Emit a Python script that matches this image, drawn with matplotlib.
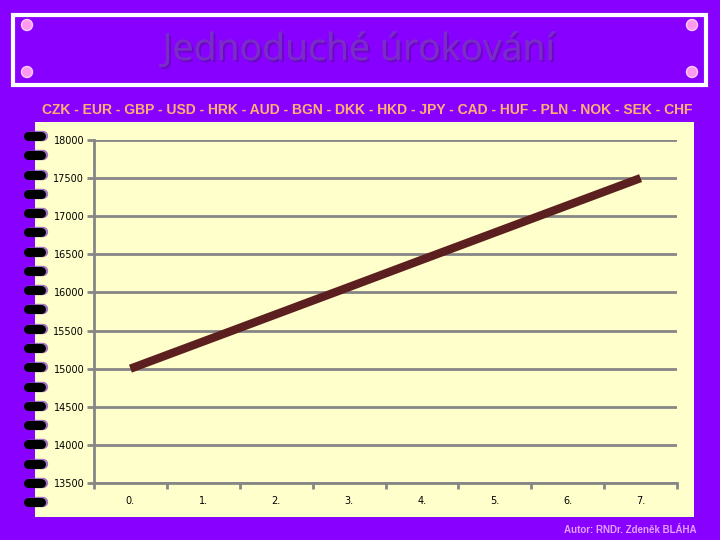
import matplotlib
matplotlib.use("Agg")
import matplotlib.pyplot as plt
from matplotlib.patches import Rectangle, Circle
import matplotlib.patheffects as pe

# data
roky = ["0.", "1.", "2.", "3.", "4.", "5.", "6.", "7."]
castka = [15000, 15357, 15714, 16071, 16429, 16786, 17143, 17500]
y_ticks = [13500, 14000, 14500, 15000, 15500, 16000, 16500, 17000, 17500, 18000]
meny = "CZK - EUR - GBP - USD - HRK - AUD - BGN - DKK - HKD - JPY - CAD - HUF - PLN - NOK - SEK - CHF"
nadpis = "Jednoduché úrokování"
autor = "Autor: RNDr. Zdeněk BLÁHA"

W, H = 720, 540
fig = plt.figure(figsize=(7.2, 5.4), dpi=100)
fig.patch.set_facecolor("#8800ff")

# background layer in pixel coordinates (y down)
bg = fig.add_axes([0, 0, 1, 1])
bg.set_xlim(0, W)
bg.set_ylim(H, 0)
bg.axis("off")

# title box
bg.add_patch(Rectangle((13, 15), 693, 70, fill=False, ec="white", lw=3))
for cx, cy in [(27, 25), (27, 72), (692, 25), (692, 72)]:
    bg.add_patch(Circle((cx, cy), 5.5, fc="#ff99ee", ec="#ffd0ff", lw=1))
bg.text(359, 50, nadpis, ha="center", va="center", fontsize=27,
        family="Open Sans", color="#7a2cc8",
        path_effects=[pe.withSimplePatchShadow(offset=(1.5, -1.5), shadow_rgbFace="#4a1080", alpha=0.45), pe.Normal()])

# currency line
bg.text(367, 110, meny, ha="center", va="center", fontsize=10,
        family="Liberation Sans", weight="bold", color="#ffb070")

# paper
bg.add_patch(Rectangle((35, 122), 659, 395, fc="#ffffcc", ec="none"))

# spiral rings
for i in range(20):
    y = 136 + i * 19.27
    bg.plot([30, 43], [y, y], color="#7a3cc0", lw=7.5, solid_capstyle="round", alpha=0.7)
    bg.plot([28, 41], [y, y], color="black", lw=6.5, solid_capstyle="round")

# author
bg.text(697, 530, autor, ha="right", va="center", fontsize=7,
        family="Liberation Sans", weight="bold", color="#e0a0ff")

# chart
ax = fig.add_axes([94 / W, (H - 483) / H, 583 / W, (483 - 140) / H])
ax.set_facecolor("none")
x = list(range(len(roky)))
ax.plot(x, castka, color="#5c1f1f", lw=6, solid_capstyle="butt")
ax.set_xlim(-0.5, len(roky) - 0.5)
ax.set_ylim(13500, 18000)
ax.set_yticks(y_ticks)
ax.set_yticklabels([str(v) for v in y_ticks], fontsize=7, family="DejaVu Sans")
ax.set_xticks(x)
ax.set_xticklabels(roky, fontsize=7, family="DejaVu Sans")
ax.set_xticks([i - 0.5 for i in range(len(roky) + 1)], minor=True)
ax.tick_params(axis="x", which="major", length=0, pad=9)
ax.tick_params(axis="x", which="minor", length=4, width=2, color="#868686", direction="out")
ax.tick_params(axis="y", length=5, width=2, color="#868686", pad=2)
ax.grid(axis="y", color="#868686", lw=2)
ax.set_axisbelow(True)
for s in ["top", "right"]:
    ax.spines[s].set_visible(False)
for s in ["left", "bottom"]:
    ax.spines[s].set_color("#868686")
    ax.spines[s].set_linewidth(2)

fig.savefig("out.png", dpi=100, facecolor=fig.get_facecolor())
